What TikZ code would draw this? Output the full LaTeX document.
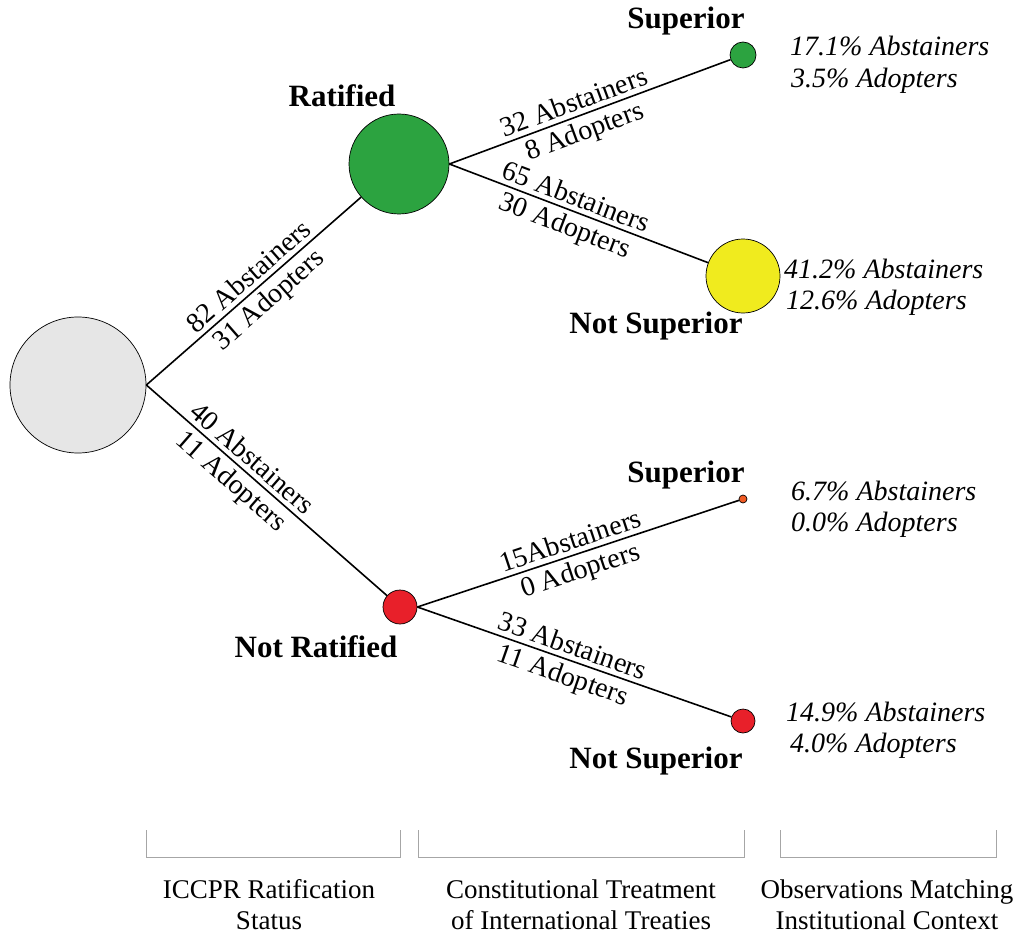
\documentclass[tikz,border=0pt]{standalone}
\usepackage{fontspec}
\setmainfont{Liberation Serif}
\begin{document}
\begin{tikzpicture}[x=1pt,y=-1pt,
  circ/.style={circle,draw=black,line width=0.7pt,inner sep=0pt},
  edge/.style={line width=1.6pt},
  elab/.style={font=\fontsize{28}{30}\selectfont,sloped,inner sep=4.5pt},
  boldlab/.style={font=\fontsize{31}{34}\selectfont\bfseries,inner sep=0pt},
  pct/.style={font=\fontsize{28}{30}\selectfont\itshape,anchor=west,inner sep=0pt},
  foot/.style={font=\fontsize{27}{31}\selectfont,align=center,inner sep=0pt},
  brk/.style={draw=gray!70,line width=0.8pt}]
\useasboundingbox (0,0) rectangle (1017,936);
\definecolor{cgray}{HTML}{E6E6E6}
\definecolor{cgreen}{HTML}{2CA340}
\definecolor{cyellow}{HTML}{F0EB1E}
\definecolor{cred}{HTML}{E8202A}
\definecolor{corange}{HTML}{F05A23}

\node[circ,fill=cgray,minimum size=136pt] (root) at (78,385) {};
\node[circ,fill=cgreen,minimum size=100pt] (rat) at (399,164) {};
\node[circ,fill=cred,minimum size=34pt] (nrat) at (400,607) {};
\node[circ,fill=cgreen,minimum size=26pt] (s1) at (743,55) {};
\node[circ,fill=cyellow,minimum size=74pt] (ns1) at (743,276) {};
\node[circ,fill=corange,minimum size=8pt] (s2) at (743,499) {};
\node[circ,fill=cred,minimum size=24pt] (ns2) at (743,721) {};

\draw[edge] (root.east) -- (rat)
  node[elab,above,pos=0.52] {82 Abstainers}
  node[elab,below,pos=0.52] {31 Adopters};
\draw[edge] (root.east) -- (nrat)
  node[elab,above,pos=0.40] {40 Abstainers}
  node[elab,below,pos=0.40] {11 Adopters};
\draw[edge] (rat.east) -- (s1)
  node[elab,above,pos=0.46] {32 Abstainers}
  node[elab,below,pos=0.46] {8 Adopters};
\draw[edge] (rat.east) -- (ns1)
  node[elab,above,pos=0.47] {65 Abstainers}
  node[elab,below,pos=0.47] {30 Adopters};
\draw[edge] (nrat.east) -- (s2)
  node[elab,above,pos=0.49] {15Abstainers}
  node[elab,below,pos=0.49] {0 Adopters};
\draw[edge] (nrat.east) -- (ns2)
  node[elab,above,pos=0.48] {33 Abstainers}
  node[elab,below,pos=0.48] {11 Adopters};

\node[boldlab] (lrat) at (342,96) {Ratified};
\node[boldlab] (lnrat) at (316,647) {Not Ratified};
\node[boldlab] (ls1) at (686,21) {Superior};
\node[boldlab] (lns1) at (656,326) {Not Superior};
\node[boldlab] (ls2) at (686,475) {Superior};
\node[boldlab] (lns2) at (656,761) {Not Superior};

\node[pct] (p1a) at (790,46) {17.1\% Abstainers};
\node[pct] (p1b) at (791,81) {3.5\% Adopters};
\node[pct] (p2a) at (784,269) {41.2\% Abstainers};
\node[pct] (p2b) at (786,303) {12.6\% Adopters};
\node[pct] (p3a) at (791,491) {6.7\% Abstainers};
\node[pct] (p3b) at (791,525) {0.0\% Adopters};
\node[pct] (p4a) at (786,712) {14.9\% Abstainers};
\node[pct] (p4b) at (790,746) {4.0\% Adopters};

\draw[brk] (146,830) -- (146,857) -- (400,857) -- (400,830);
\draw[brk] (418,830) -- (418,857) -- (744,857) -- (744,830);
\draw[brk] (780,830) -- (780,857) -- (996,857) -- (996,830);

\node[foot] (f1) at (269,905) {ICCPR Ratification\\Status};
\node[foot] (f2) at (581,905) {Constitutional Treatment\\of International Treaties};
\node[foot] (f3) at (887,905) {Observations Matching\\Institutional Context};
\end{tikzpicture}
\end{document}
